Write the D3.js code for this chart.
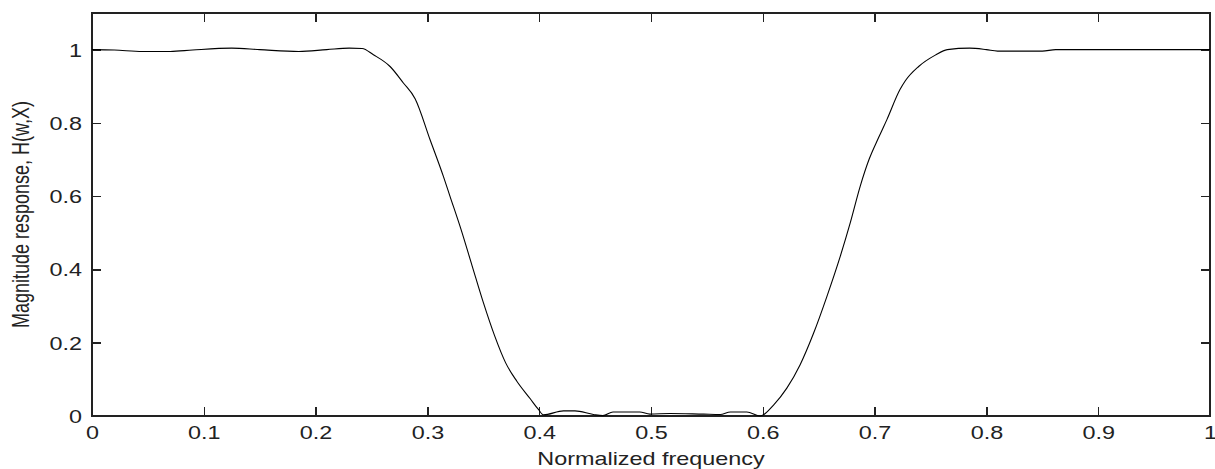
<!DOCTYPE html>
<html>
<head>
<meta charset="utf-8">
<script src="https://cdn.jsdelivr.net/npm/d3@7"></script>
<style>
  body { margin: 0; background: #fff; }
  text { font-family: "Liberation Sans", Arial, sans-serif; fill: #222; }
</style>
</head>
<body>
<div id="chart"></div>
<script>
// frequency (normalized) and magnitude
var freq = [0, 0.02, 0.045, 0.07, 0.09, 0.125, 0.15, 0.185, 0.21, 0.23, 0.2416, 0.2517, 0.2666, 0.2785, 0.289,
    0.3024, 0.3143, 0.3203, 0.33, 0.34, 0.35, 0.36, 0.37, 0.38, 0.392, 0.3993, 0.4038, 0.4217, 0.432, 0.4485,
    0.457, 0.466, 0.49, 0.499, 0.517, 0.547, 0.5619, 0.571, 0.5857, 0.5977, 0.6096, 0.6215, 0.6334, 0.6453,
    0.6573, 0.6692, 0.6782, 0.6871, 0.695, 0.7036, 0.711, 0.7227, 0.7275, 0.7394, 0.7543, 0.765, 0.785, 0.80,
    0.81, 0.85, 0.862, 0.9, 0.95, 1.0];
var magnitude = [1.0, 0.999, 0.995, 0.995, 0.999, 1.004, 1.0, 0.995, 1.0, 1.004, 1.003, 0.986, 0.954, 0.909, 0.866,
    0.754, 0.654, 0.599, 0.51, 0.41, 0.31, 0.22, 0.145, 0.095, 0.047, 0.018, 0.003, 0.014, 0.014, 0.004,
    0.001, 0.011, 0.011, 0.005, 0.007, 0.005, 0.004, 0.011, 0.011, 0.0, 0.03, 0.076, 0.14, 0.225,
    0.326, 0.435, 0.527, 0.627, 0.70, 0.76, 0.809, 0.891, 0.915, 0.954, 0.985, 1.0, 1.004, 1.0,
    0.996, 0.996, 1.0, 1.0, 1.0, 1.0];

var xTickVals = [0, 0.1, 0.2, 0.3, 0.4, 0.5, 0.6, 0.7, 0.8, 0.9, 1];
var xTickLabels = ["0", "0.1", "0.2", "0.3", "0.4", "0.5", "0.6", "0.7", "0.8", "0.9", "1"];
var yTickVals = [0, 0.2, 0.4, 0.6, 0.8, 1];
var yTickLabels = ["0", "0.2", "0.4", "0.6", "0.8", "1"];

var xTitle = "Normalized frequency";
var yTitle = "Magnitude response, H(w,X)";

var width = 1215, height = 469;
var plotLeft = 92, plotRight = 1210, plotTop = 13, plotBottom = 416;
var stretch = 1.3;   // text in the picture is drawn wide

var svg = d3.select("#chart").append("svg").attr("width", width).attr("height", height);

var x = d3.scaleLinear().domain([0, 1]).range([plotLeft, plotRight]);
var y = d3.scaleLinear().domain([0, 1.1]).range([plotBottom, plotTop]);

var data = freq.map(function(f, i) { return { f: f, m: magnitude[i] }; });

// frame
svg.append("rect")
    .attr("x", plotLeft).attr("y", plotTop)
    .attr("width", plotRight - plotLeft).attr("height", plotBottom - plotTop)
    .attr("fill", "none").attr("stroke", "#222").attr("stroke-width", 1.5)
    .attr("shape-rendering", "crispEdges");

function styleAxis(g) {
    g.select(".domain").remove();
    g.selectAll(".tick line").attr("stroke", "#222").attr("stroke-width", 1.5).attr("shape-rendering", "crispEdges");
    g.selectAll("text").style("font-size", "18px").attr("fill", "#222");
}

var xAxis = svg.append("g")
    .attr("transform", "translate(0," + plotBottom + ")")
    .call(d3.axisBottom(x).tickValues(xTickVals).tickSizeInner(-9).tickSizeOuter(0)
        .tickFormat(function(d, i) { return xTickLabels[i]; }))
    .call(styleAxis);
xAxis.selectAll("text").attr("y", null).attr("dy", null)
    .attr("transform", "translate(0,23) scale(" + stretch + ",1)");

var yAxis = svg.append("g")
    .attr("transform", "translate(" + plotLeft + ",0)")
    .call(d3.axisLeft(y).tickValues(yTickVals).tickSizeInner(-9).tickSizeOuter(0)
        .tickFormat(function(d, i) { return yTickLabels[i]; }))
    .call(styleAxis);
yAxis.selectAll("text").attr("x", null).attr("dy", null)
    .attr("transform", "translate(-10,6.5) scale(" + stretch + ",1)");

svg.append("g")
    .attr("transform", "translate(0," + plotTop + ")")
    .call(d3.axisTop(x).tickValues(xTickVals).tickSizeInner(-9).tickSizeOuter(0).tickFormat(""))
    .call(styleAxis);

svg.append("g")
    .attr("transform", "translate(" + plotRight + ",0)")
    .call(d3.axisRight(y).tickValues(yTickVals).tickSizeInner(-9).tickSizeOuter(0).tickFormat(""))
    .call(styleAxis);

// response curve
var line = d3.line()
    .x(function(d) { return x(d.f); })
    .y(function(d) { return y(d.m); })
    .curve(d3.curveMonotoneX);

svg.append("path")
    .datum(data)
    .attr("d", line)
    .attr("fill", "none")
    .attr("stroke", "#000")
    .attr("stroke-width", 1.1);

// axis titles
svg.append("text")
    .attr("transform", "translate(" + ((plotLeft + plotRight) / 2) + ",465) scale(" + stretch + ",1)")
    .attr("text-anchor", "middle")
    .style("font-size", "18px")
    .text(xTitle);

svg.append("text")
    .attr("transform", "translate(28.5," + ((plotTop + plotBottom) / 2) + ") scale(" + stretch + ",1) rotate(-90)")
    .attr("text-anchor", "middle")
    .style("font-size", "18px")
    .text(yTitle);
</script>
</body>
</html>
